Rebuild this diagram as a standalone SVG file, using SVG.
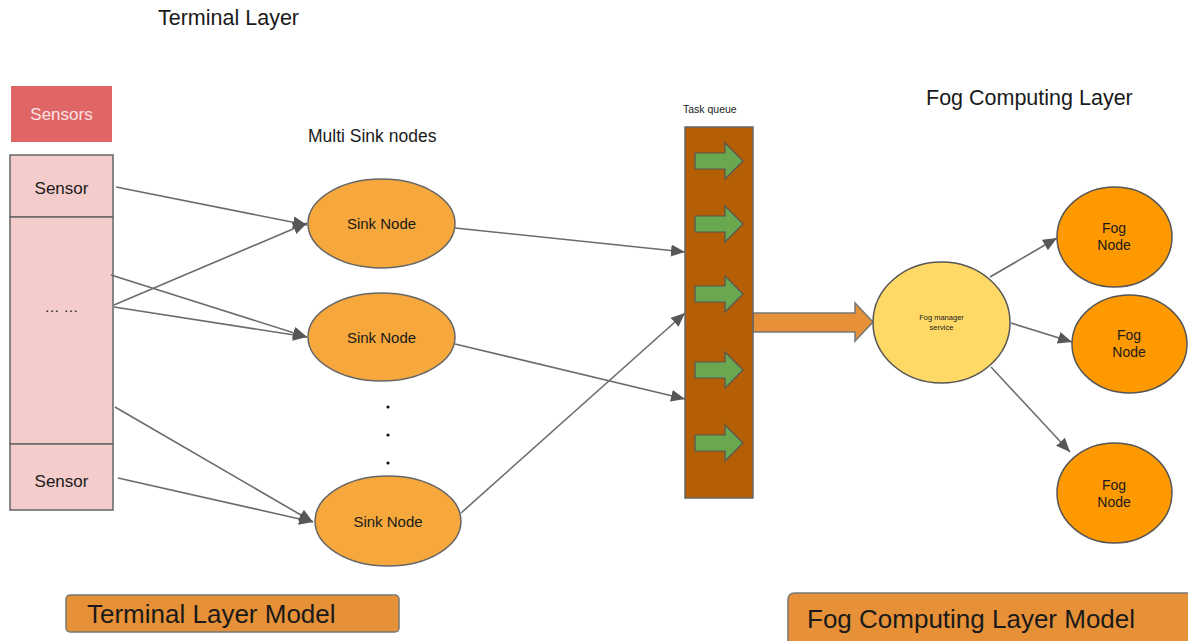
<svg xmlns="http://www.w3.org/2000/svg" width="1188" height="641" viewBox="0 0 1188 641">
  <style>
    text { font-family: "Liberation Sans", Arial, sans-serif; fill: #1a1a1a; }
    .title { font-size: 21.5px; }
    .model { font-size: 26px; }
    .cell { fill: #f4cccc; stroke: #666666; stroke-width: 1.5; }
    .sink { fill: #f6a83c; stroke: #666666; stroke-width: 1.5; }
    .fog { fill: #ff9900; stroke: #555555; stroke-width: 1.5; }
    .mgr { fill: #ffd966; stroke: #555555; stroke-width: 1.5; }
    .edge { fill: none; stroke: #6b6b6b; stroke-width: 1.6; marker-end: url(#ah); }
    .qarrow { fill: #6aa84f; stroke: #555555; stroke-width: 1.2; }
    .band { fill: #e69138; stroke: #777777; stroke-width: 1.5; }
  </style>
  <defs>
    <marker id="ah" markerUnits="userSpaceOnUse" markerWidth="16" markerHeight="14" refX="14" refY="6" orient="auto">
      <path d="M0,0 L14,6 L0,12 Z" fill="#575757"/>
    </marker>
  </defs>

  <rect width="1188" height="641" fill="#ffffff"/>

  <!-- layer titles -->
  <text class="title" x="158" y="25">Terminal Layer</text>
  <text x="308" y="142" font-size="17.5">Multi Sink nodes</text>
  <text x="683" y="113" font-size="10.5">Task queue</text>
  <text class="title" x="926" y="105">Fog Computing Layer</text>

  <!-- sensor header -->
  <g id="sensors-header">
    <rect x="11" y="86" width="101" height="56" fill="#e06666"/>
    <text x="61.5" y="120" font-size="17" text-anchor="middle" style="fill:#fbe3e3">Sensors</text>
  </g>

  <!-- sensor column -->
  <g id="sensor-top">
    <rect class="cell" x="10" y="155" width="103" height="62"/>
    <text x="61.5" y="194" font-size="17" text-anchor="middle">Sensor</text>
  </g>
  <g id="sensor-middle">
    <rect class="cell" x="10" y="217" width="103" height="227"/>
    <text x="61.5" y="312" font-size="15" text-anchor="middle">… …</text>
  </g>
  <g id="sensor-bottom">
    <rect class="cell" x="10" y="444" width="103" height="66"/>
    <text x="61.5" y="487" font-size="17" text-anchor="middle">Sensor</text>
  </g>

  <!-- connectors -->
  <g id="connectors">
    <line class="edge" x1="116" y1="187" x2="307" y2="225"/>
    <line class="edge" x1="111" y1="275" x2="307" y2="337"/>
    <line class="edge" x1="114" y1="305" x2="307" y2="223"/>
    <line class="edge" x1="114" y1="307" x2="307" y2="337"/>
    <line class="edge" x1="115" y1="407" x2="313" y2="522"/>
    <line class="edge" x1="118" y1="478" x2="313" y2="522"/>
    <line class="edge" x1="455" y1="228" x2="685" y2="252"/>
    <line class="edge" x1="455" y1="344" x2="685" y2="399"/>
    <line class="edge" x1="461" y1="513" x2="685" y2="313"/>
    <line class="edge" x1="990" y1="277" x2="1057" y2="238"/>
    <line class="edge" x1="1011" y1="323" x2="1072" y2="342"/>
    <line class="edge" x1="991" y1="367" x2="1070" y2="452"/>
    <!-- bulk transfer from the queue to the manager -->
    <path class="band" d="M753,313 L855,313 L855,303 L873,322 L855,341 L855,332 L753,332 Z"/>
  </g>

  <!-- sink nodes -->
  <g id="sink-1">
    <ellipse class="sink" cx="381.5" cy="223.5" rx="73.5" ry="44.5"/>
    <text x="381.5" y="229" font-size="15" text-anchor="middle">Sink Node</text>
  </g>
  <g id="sink-2">
    <ellipse class="sink" cx="381.5" cy="337" rx="73.5" ry="44"/>
    <text x="381.5" y="343" font-size="15" text-anchor="middle">Sink Node</text>
  </g>
  <g id="sink-dots" fill="#111111">
    <circle cx="388" cy="407" r="1.6"/>
    <circle cx="388" cy="435" r="1.6"/>
    <circle cx="388" cy="463" r="1.6"/>
  </g>
  <g id="sink-3">
    <ellipse class="sink" cx="388" cy="521" rx="73" ry="45"/>
    <text x="388" y="527" font-size="15" text-anchor="middle">Sink Node</text>
  </g>

  <!-- task queue -->
  <g id="task-queue">
    <rect x="685" y="127" width="68" height="371" fill="#b45f06" stroke="#666666" stroke-width="1.5"/>
    <path class="qarrow" d="M695,153 L725,153 L725,143 L743,161 L725,179 L725,169 L695,169 Z"/>
    <path class="qarrow" d="M695,216 L725,216 L725,206 L743,224 L725,242 L725,232 L695,232 Z"/>
    <path class="qarrow" d="M695,286 L725,286 L725,276 L743,294 L725,312 L725,302 L695,302 Z"/>
    <path class="qarrow" d="M695,362 L725,362 L725,352 L743,370 L725,388 L725,378 L695,378 Z"/>
    <path class="qarrow" d="M695,435 L725,435 L725,425 L743,443 L725,461 L725,451 L695,451 Z"/>
  </g>

  <!-- fog layer -->
  <g id="fog-manager">
    <ellipse class="mgr" cx="941.5" cy="322.5" rx="68.5" ry="60.5"/>
    <text x="941.5" y="320" font-size="7.5" text-anchor="middle">Fog manager</text>
    <text x="941.5" y="330" font-size="7.5" text-anchor="middle">service</text>
  </g>
  <g id="fog-node-1">
    <ellipse class="fog" cx="1114.5" cy="237" rx="57.5" ry="50"/>
    <text x="1114" y="233" font-size="14" text-anchor="middle">Fog</text>
    <text x="1114" y="250" font-size="14" text-anchor="middle">Node</text>
  </g>
  <g id="fog-node-2">
    <ellipse class="fog" cx="1129.5" cy="344" rx="57.5" ry="49"/>
    <text x="1129" y="340" font-size="14" text-anchor="middle">Fog</text>
    <text x="1129" y="357" font-size="14" text-anchor="middle">Node</text>
  </g>
  <g id="fog-node-3">
    <ellipse class="fog" cx="1114.5" cy="493" rx="57.5" ry="50"/>
    <text x="1114" y="490" font-size="14" text-anchor="middle">Fog</text>
    <text x="1114" y="507" font-size="14" text-anchor="middle">Node</text>
  </g>

  <!-- model labels -->
  <g id="terminal-model">
    <rect class="band" x="66" y="595" width="333" height="37" rx="4"/>
    <text class="model" x="87" y="623">Terminal Layer Model</text>
  </g>
  <g id="fog-model">
    <rect class="band" x="788" y="593" width="410" height="56" rx="6"/>
    <text class="model" x="807" y="628">Fog Computing Layer Model</text>
  </g>
</svg>
